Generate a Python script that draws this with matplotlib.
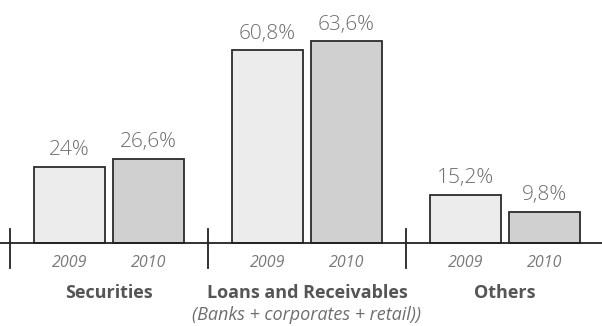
import numpy as np
import matplotlib.pyplot as plt

categories = ['Securities', 'Loans and Receivables', 'Others']
subtitle = '(Banks + corporates + retail))'
years = ['2009', '2010']
values_2009 = [24.0, 60.8, 15.2]
values_2010 = [26.6, 63.6, 9.8]
labels_2009 = ['24%', '60,8%', '15,2%']
labels_2010 = ['26,6%', '63,6%', '9,8%']

plt.rcParams['font.family'] = ['Open Sans', 'DejaVu Sans']

fig = plt.figure(figsize=(6.02, 3.26), dpi=100)
ax = fig.add_axes([0, 0, 1, 1])
ax.set_axis_off()

n = len(categories)
x = np.arange(n)
width = 0.3586
off = 0.2

ax.bar(x + 0.5 - off, values_2009, width, color='#ececec', edgecolor='#2b2b2b', linewidth=1.3, zorder=2)
ax.bar(x + 0.5 + off, values_2010, width, color='#d0d0d0', edgecolor='#2b2b2b', linewidth=1.3, zorder=2)

# value labels
for xi, v, lab in zip(x + 0.5 - off, values_2009, labels_2009):
    ax.text(xi, v + 3.7, lab, ha='center', va='baseline', fontsize=15, color='#6e6e6e', fontweight='light')
for xi, v, lab in zip(x + 0.5 + off, values_2010, labels_2010):
    ax.text(xi, v + 3.7, lab, ha='center', va='baseline', fontsize=15, color='#6e6e6e', fontweight='light')

# baseline and dividers
ax.axhline(0, color='#222222', linewidth=1.3, zorder=3)
for xi in x:
    ax.plot([xi, xi], [-7.9, 4.4], color='#222222', linewidth=1.3, zorder=3)

# year labels
for xi in x:
    ax.text(xi + 0.5 - off, -6.3, years[0], ha='center', va='center', fontsize=11.5,
            style='italic', color='#7a7a7a')
    ax.text(xi + 0.5 + off, -6.3, years[1], ha='center', va='center', fontsize=11.5,
            style='italic', color='#7a7a7a')

# category labels
for xi, cat in zip(x, categories):
    ax.text(xi + 0.5, -15.8, cat, ha='center', va='center', fontsize=13,
            fontweight='bold', color='#555555')
ax.text(1.5, -22.6, subtitle, ha='center', va='center', fontsize=13,
        style='italic', color='#6e6e6e')

ax.set_xlim(-10 / 198, 592 / 198)
ax.set_ylim(-83 / 3.17, 243 / 3.17)

fig.savefig('out.png', dpi=100)
